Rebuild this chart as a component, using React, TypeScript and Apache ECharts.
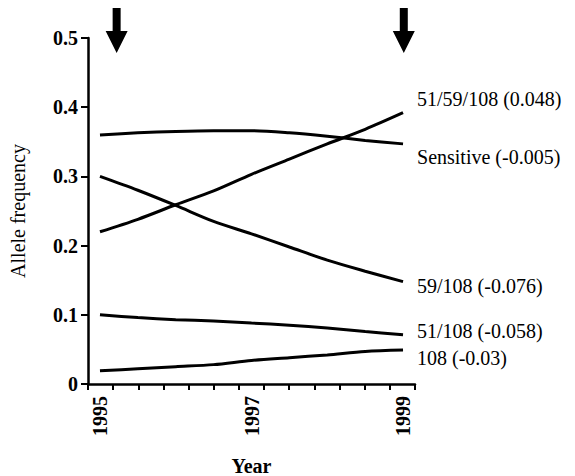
import React, { useEffect, useRef } from "react";
import * as echarts from "echarts";

const years = [1995, 1995.5, 1996, 1996.5, 1997, 1997.5, 1998, 1998.5, 1999];
const sensitive = [0.36, 0.363, 0.365, 0.366, 0.366, 0.363, 0.358, 0.352, 0.347];
const triple = [0.22, 0.238, 0.259, 0.279, 0.303, 0.325, 0.347, 0.368, 0.392];
const double59 = [0.3, 0.28, 0.258, 0.235, 0.217, 0.198, 0.179, 0.163, 0.148];
const double51 = [0.1, 0.096, 0.093, 0.091, 0.088, 0.085, 0.081, 0.076, 0.071];
const single108 = [0.019, 0.022, 0.025, 0.028, 0.034, 0.038, 0.042, 0.047, 0.049];

const seriesNames = [
  "51/59/108 (0.048)",
  "Sensitive (-0.005)",
  "59/108 (-0.076)",
  "51/108 (-0.058)",
  "108 (-0.03)",
];
const seriesValues = [triple, sensitive, double59, double51, single108];
const labelShiftY = [-14, 13, 4, -4, 8];

const xLabelYears = [1995, 1997, 1999];
const yTicks = [0, 0.1, 0.2, 0.3, 0.4, 0.5];
const arrowYears = [1995.22, 1999.01];

const X_MIN = 1994.842;
const X_MAX = 1999.158;
const TICK_COUNT = 13;

const FONT = "Liberation Serif";

export default function App() {
  const ref = useRef<HTMLDivElement>(null);
  useEffect(() => {
    document.body.style.margin = "0";
    if (!ref.current) return;
    const chart = echarts.init(ref.current, undefined, { renderer: "svg" });
    const tickValues: number[] = [];
    for (let i = 0; i <= TICK_COUNT; i++) {
      tickValues.push(X_MIN + ((X_MAX - X_MIN) * i) / TICK_COUNT);
    }
    const lineSeries = seriesNames.map((name, i) => ({
      type: "line",
      name,
      data: years.map((y, j) => [y, seriesValues[i][j]]),
      smooth: 0.3,
      showSymbol: false,
      symbol: "none",
      lineStyle: { color: "#000", width: 3 },
      silent: true,
      endLabel: {
        show: true,
        formatter: name,
        color: "#000",
        fontFamily: FONT,
        fontSize: 20,
        distance: 14,
        offset: [0, labelShiftY[i]],
      },
    }));
    chart.setOption({
      animation: false,
      backgroundColor: "#fff",
      grid: {
        left: 88,
        right: 160,
        top: 38,
        bottom: 92,
        containLabel: false,
        outerBoundsMode: "none",
      },
      xAxis: {
        type: "value",
        min: X_MIN,
        max: X_MAX,
        name: "Year",
        nameLocation: "middle",
        nameGap: 72,
        nameTextStyle: { fontFamily: FONT, fontSize: 20, fontWeight: "bold", color: "#000" },
        axisLine: { show: true, lineStyle: { color: "#000", width: 2.5 } },
        axisTick: {
          show: true,
          length: 6,
          customValues: tickValues,
          lineStyle: { color: "#000", width: 2 },
        },
        axisLabel: {
          customValues: xLabelYears,
          rotate: 90,
          margin: 12,
          fontFamily: FONT,
          fontSize: 20,
          fontWeight: "bold",
          color: "#000",
          formatter: (v: number) => String(Math.round(v)),
        },
        splitLine: { show: false },
      },
      yAxis: {
        type: "value",
        min: 0,
        max: 0.5,
        interval: 0.1,
        name: "Allele frequency",
        nameLocation: "middle",
        nameGap: 60,
        nameTextStyle: { fontFamily: FONT, fontSize: 20, color: "#000" },
        axisLine: { show: true, lineStyle: { color: "#000", width: 2.5 } },
        axisTick: {
          show: true,
          length: 7,
          customValues: yTicks,
          lineStyle: { color: "#000", width: 2 },
        },
        axisLabel: {
          customValues: yTicks,
          margin: 10,
          fontFamily: FONT,
          fontSize: 20,
          fontWeight: "bold",
          color: "#000",
          formatter: (v: number) => (v === 0 ? "0" : v.toFixed(1)),
        },
        splitLine: { show: false },
      },
      series: [
        ...lineSeries,
        {
          type: "scatter",
          name: "arrows",
          data: arrowYears.map((y) => [y, 0.5]),
          symbol: "path://M7,0 L15,0 L15,23 L22,23 L11,45 L0,23 L7,23 Z",
          symbolSize: [22, 45],
          symbolOffset: [0, -7.5],
          itemStyle: { color: "#000", opacity: 1 },
          clip: false,
          silent: true,
        },
      ],
    });
    return () => chart.dispose();
  }, []);
  return <div ref={ref} style={{ width: 575, height: 476 }} />;
}
